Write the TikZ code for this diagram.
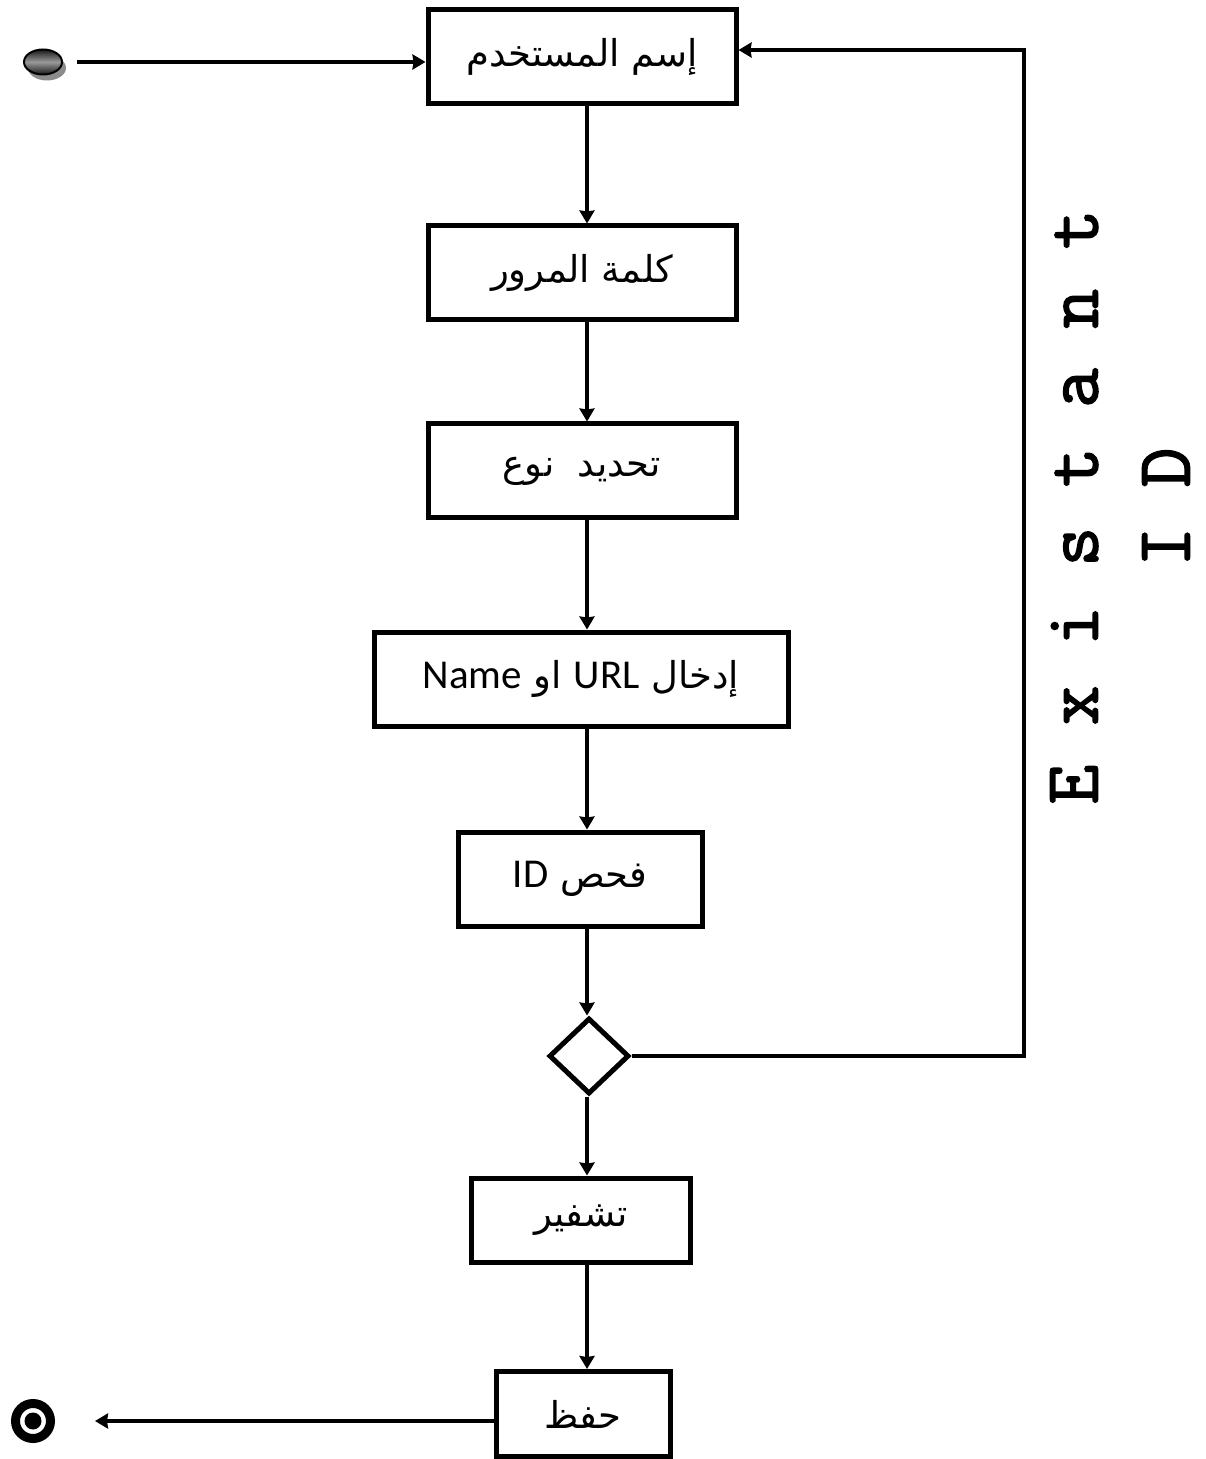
\documentclass[tikz,border=0pt]{standalone}
\usepackage{fontspec}
\usetikzlibrary{shapes.geometric,arrows.meta,shadows}
\TeXXeTstate=1
\newfontfamily\arabicfont[Script=Arabic]{DejaVu Sans}
\newfontfamily\latinfont{Carlito}
\newfontfamily\slabfont[FakeBold=2]{Latin Modern Mono}
\newcommand{\lat}[1]{\beginL{\latinfont\fontsize{20.5}{24}\selectfont #1}\endL{}}
\tikzset{
  stepbox/.style={draw,line width=2.5pt,rectangle,minimum height=47pt,inner sep=0pt,
    font=\arabicfont\fontsize{18.5}{21}\selectfont},
  decision/.style={draw,line width=2.5pt,diamond,minimum width=40pt,minimum height=38pt,inner sep=0pt},
  flow/.style={line width=2pt,->},
  startstate/.style={ellipse,draw,line width=1pt,minimum width=19pt,minimum height=12.5pt,inner sep=0pt,
    top color=black!90,bottom color=black!90,middle color=gray!80,
    drop shadow={fill=gray!90,shadow xshift=2pt,shadow yshift=-3pt,opacity=1}},
  endstate/.style={circle,draw,line width=4.5pt,minimum size=17.5pt,inner sep=0pt,
    path picture={\fill[black] (path picture bounding box.center) circle (4.25pt);}}
}
\begin{document}
\begin{tikzpicture}[x=0.5pt,y=-0.5pt,>={Stealth[length=6.5pt,width=7.5pt,inset=0.5pt]}]
\useasboundingbox (0,0) rectangle (1205,1459);
% states of the flow
\node[startstate] (start) at (43,62) {};
\node[endstate] (stop) at (33,1421) {};
\node[stepbox,minimum width=154pt] (user) at (582,57) {\beginR إسم المستخدم\endR};
\node[stepbox,minimum width=154pt] (pass) at (582,273) {\beginR كلمة المرور\endR};
\node[stepbox,minimum width=154pt] (kind) at (582,471) {\beginR تحديد\ \ نوع\endR};
\node[stepbox,minimum width=207pt] (addr) at (581,679) {\beginR إدخال \lat{URL} او \lat{Name}\endR};
\node[stepbox,minimum width=122pt] (check) at (580,879) {\beginR فحص \lat{ID}\endR};
\node[decision] (dec) at (589,1056) {};
\node[stepbox,minimum width=109.5pt,minimum height=42pt] (enc) at (581,1220) {\beginR تشفير\endR};
\node[stepbox,minimum width=87pt,minimum height=42.5pt] (save) at (583,1414) {\beginR حفظ\endR};
\coordinate (spine) at (587,0);
\coordinate (loop) at (1024,50);
% connectors
\draw[flow,shorten <=7pt] (start) -- (start -| user.west);
\draw[flow] (user.south -| spine) -- (pass.north -| spine);
\draw[flow] (pass.south -| spine) -- (kind.north -| spine);
\draw[flow] (kind.south -| spine) -- (addr.north -| spine);
\draw[flow] (addr.south -| spine) -- (check.north -| spine);
\draw[flow] (check.south -| spine) -- (dec.north -| spine);
\draw[flow] (dec.south -| spine) -- (enc.north -| spine);
\draw[flow] (enc.south -| spine) -- (save.north -| spine);
\draw[flow] (save.west |- stop) -- (stop) [shorten >=20pt];
\draw[flow] (dec.east) -| (loop) -- (user.east |- loop);
\node[rotate=90,align=center,inner sep=1pt,font=\slabfont\fontsize{38.5}{46}\selectfont] (exist) at (1120,507) {E x i s t a n t\\I D};
\end{tikzpicture}
\end{document}
